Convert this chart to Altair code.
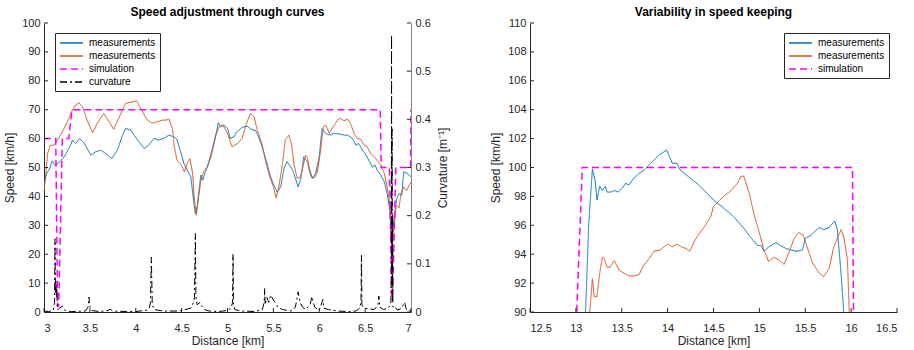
import altair as alt
import pandas as pd

FONT = "Liberation Sans"
BLUE = "#0072BD"
ORANGE = "#D95319"
MAGENTA = "#FF00FF"
BLACK = "#000000"
AX = "#262626"

# ---------------- Left panel: speed adjustment through curves ----------------
blue_km = [3.00, 3.01, 3.03, 3.06, 3.09, 3.12, 3.16, 3.22, 3.25, 3.29, 3.31, 3.345, 3.39, 3.44,
           3.47, 3.51, 3.56, 3.62, 3.67, 3.74, 3.80, 3.85, 3.89, 3.945, 4.02, 4.09, 4.14, 4.20,
           4.25, 4.31, 4.36, 4.42, 4.45, 4.49, 4.525, 4.56, 4.60, 4.63, 4.65, 4.67, 4.69, 4.71,
           4.73, 4.76, 4.82, 4.87, 4.90, 4.925, 4.96, 5.00, 5.03, 5.07, 5.10, 5.16, 5.215, 5.26,
           5.31, 5.36, 5.42, 5.46, 5.49, 5.54, 5.58, 5.62, 5.65, 5.71, 5.74, 5.77, 5.80, 5.83,
           5.87, 5.90, 5.925, 5.96, 6.00, 6.03, 6.07, 6.11, 6.16, 6.22, 6.27, 6.31, 6.36, 6.40,
           6.43, 6.47, 6.50, 6.54, 6.58, 6.61, 6.63, 6.67, 6.71, 6.74, 6.77, 6.785, 6.80, 6.83,
           6.85, 6.87, 6.90, 6.92, 6.96, 7.00]
blue_speed = [44, 45.5, 48, 49.5, 52.3, 50.8, 51.6, 53.7, 55.4, 57.7, 59.5, 58.3, 60, 58.3,
              56.6, 54.3, 55.4, 56, 54.9, 53.1, 56, 60.6, 63.5, 62.9, 59.5, 56.6, 57.7, 60.1,
              59.5, 60.1, 61.2, 60.6, 59.5, 55.4, 51.4, 49.1, 46.8, 38.7, 34.1, 36.4, 42.2, 47.4,
              45.6, 48.5, 53.7, 60.6, 65.5, 64.1, 64.7, 63.5, 60.1, 60.6, 62.3, 63.9, 64.3, 63.2,
              62.7, 58.9, 52.5, 47.9, 45, 41.5, 43.3, 50.2, 52, 49.1, 46.2, 43.3, 46.2, 53.7,
              52, 47.9, 46.2, 47.9, 53.7, 63.5, 61.8, 61.2, 61.8, 61.6, 61.2, 61.2, 60.1, 57.7,
              58.3, 56, 54.9, 52.5, 50.2, 50.8, 49.1, 47.4, 45, 41, 35.2, 24, 28, 36.4,
              39.8, 41, 40.4, 48.5, 47.9, 46.8]

orange_km = [3.00, 3.02, 3.04, 3.07, 3.11, 3.145, 3.20, 3.254, 3.31, 3.345, 3.38, 3.42, 3.47,
             3.53, 3.58, 3.65, 3.71, 3.76, 3.82, 3.89, 3.96, 4.01, 4.054, 4.126, 4.18, 4.235,
             4.29, 4.33, 4.36, 4.40, 4.42, 4.45, 4.49, 4.53, 4.56, 4.59, 4.62, 4.64, 4.66, 4.68,
             4.71, 4.74, 4.78, 4.83, 4.87, 4.91, 4.95, 5.00, 5.05, 5.11, 5.16, 5.20, 5.25, 5.29,
             5.32, 5.38, 5.42, 5.46, 5.50, 5.53, 5.56, 5.60, 5.63, 5.67, 5.70, 5.725, 5.76, 5.79,
             5.815, 5.85, 5.87, 5.89, 5.92, 5.95, 5.98, 6.015, 6.045, 6.07, 6.11, 6.14, 6.20,
             6.23, 6.27, 6.31, 6.34, 6.38, 6.41, 6.45, 6.49, 6.52, 6.56, 6.60, 6.63, 6.67, 6.71,
             6.74, 6.77, 6.79, 6.81, 6.84, 6.87, 6.89, 6.92, 6.95, 7.00]
orange_speed = [42, 48, 55, 57.7, 57.7, 59.5, 62.3, 65.8, 69.9, 71.6, 72.4, 71, 66.4,
                62, 65.3, 68.7, 65.8, 63.2, 67.5, 72.2, 72.7, 73.1, 70.4, 66.4, 65.3, 65.8,
                66.4, 66.4, 66.7, 63.5, 57.2, 52.5, 51.2, 48.5, 51.4, 53.1, 47.9, 38.7, 33.5, 38.7,
                45.6, 48.5, 50.2, 56, 61.2, 64.1, 64.7, 61.8, 57.2, 58.3, 60.1, 64.7, 68.7, 67.5,
                63.5, 57.7, 51.4, 46.8, 43.3, 39.5, 43.3, 51.4, 59.5, 61.2, 57.5, 51, 46.2, 46.5,
                49.1, 54.3, 53.5, 50.2, 46.8, 46.5, 48.5, 56, 64.1, 64.7, 61.8, 63.5, 66.4,
                67, 66.2, 66.7, 65.3, 61.8, 60.1, 59.8, 57.7, 57.2, 54.9, 53.7, 52.5, 50.8, 47.9,
                43.3, 37.5, 22, 28, 37, 36, 41, 43.3, 42, 45]

sim_km = [3.00, 3.128, 3.148, 3.16, 3.20, 3.27, 3.305, 6.665, 6.675, 6.765, 6.79, 6.80,
          6.835, 6.995, 7.00]
sim_speed = [60, 60, 2, 2, 60, 60, 70, 70, 50, 50, 5, 5, 50, 50, 70]

curv_km = [3.00, 3.05, 3.10, 3.115, 3.12, 3.125, 3.13, 3.135, 3.14, 3.145, 3.15, 3.17, 3.20,
           3.22, 3.25, 3.30, 3.45, 3.48, 3.49, 3.50, 3.52, 3.60, 3.70, 3.72, 3.75, 3.90, 4.00,
           4.13, 4.15, 4.16, 4.17, 4.18, 4.20, 4.30, 4.45, 4.50, 4.60, 4.63, 4.64, 4.65, 4.655,
           4.66, 4.67, 4.70, 4.72, 4.75, 4.80, 4.90, 5.00, 5.04, 5.055, 5.06, 5.065, 5.08, 5.15,
           5.30, 5.38, 5.40, 5.405, 5.41, 5.43, 5.45, 5.47, 5.50, 5.52, 5.55, 5.60, 5.70, 5.74,
           5.77, 5.79, 5.82, 5.85, 5.90, 5.92, 5.95, 6.00, 6.04, 6.05, 6.10, 6.20, 6.30, 6.40,
           6.44, 6.455, 6.46, 6.465, 6.48, 6.50, 6.60, 6.64, 6.65, 6.66, 6.70, 6.75, 6.78,
           6.785, 6.788, 6.791, 6.794, 6.797, 6.80, 6.803, 6.82, 6.85, 6.90, 6.93, 6.95, 7.00]
curv_val = [0.002, 0.001, 0.003, 0.02, 0.152, 0.04, 0.065, 0.03, 0.05, 0.01, 0.005, 0.008, 0.012,
            0.005, 0.002, 0.001, 0.002, 0.01, 0.031, 0.012, 0.003, 0.001, 0.003, 0.006, 0.002, 0.001, 0.001,
            0.004, 0.01, 0.02, 0.114, 0.015, 0.005, 0.002, 0.002, 0.003, 0.008, 0.02, 0.03, 0.163, 0.04,
            0.025, 0.015, 0.02, 0.012, 0.005, 0.002, 0.001, 0.003, 0.008, 0.02, 0.12, 0.015, 0.005, 0.002,
            0.001, 0.005, 0.02, 0.049, 0.015, 0.03, 0.02, 0.035, 0.025, 0.02, 0.01, 0.005, 0.002, 0.01,
            0.042, 0.02, 0.01, 0.005, 0.015, 0.032, 0.01, 0.003, 0.026, 0.008, 0.005, 0.002, 0.001, 0.002,
            0.008, 0.02, 0.118, 0.015, 0.01, 0.008, 0.005, 0.015, 0.033, 0.01, 0.005, 0.008, 0.015,
            0.1, 0.575, 0.05, 0.38, 0.02, 0.2, 0.01, 0.012, 0.004, 0.008, 0.02, 0.005, 0.002]

# ---------------- Right panel: variability in speed keeping ----------------
rblue_km = [13.10, 13.14, 13.18, 13.21, 13.23, 13.26, 13.29, 13.32, 13.34, 13.38, 13.42, 13.46,
            13.51, 13.54, 13.58, 13.63, 13.69, 13.74, 13.80, 13.85, 13.91, 13.94, 13.99, 14.01,
            14.05, 14.10, 14.14, 14.20, 14.25, 14.32, 14.40, 14.45, 14.50, 14.61, 14.72, 14.83,
            14.90, 14.98, 15.02, 15.05, 15.10, 15.18, 15.23, 15.29, 15.34, 15.41, 15.47, 15.50,
            15.56, 15.65, 15.70, 15.76, 15.82, 15.85, 15.89, 15.93]
rblue_speed = [89.0, 96.1, 99.9, 99.1, 97.75, 98.7, 98.4, 98.7, 98.3, 98.3, 98.4, 98.3,
               98.6, 98.9, 98.8, 99.25, 99.6, 99.8, 100.2, 100.5, 100.9, 101.0, 101.2, 100.9,
               100.3, 100.3, 99.8, 99.5, 99.25, 98.9, 98.4, 98.1, 97.75, 97.2, 96.6, 95.8,
               95.2, 94.6, 94.6, 94.2, 94.5, 94.8, 94.6, 94.4, 94.3, 94.2, 94.3, 95.1,
               95.3, 95.85, 95.7, 95.85, 96.3, 95.7, 92.7, 89.0]

rorange_km = [13.145, 13.18, 13.20, 13.23, 13.26, 13.29, 13.31, 13.34, 13.37, 13.42, 13.47,
              13.52, 13.58, 13.64, 13.69, 13.74, 13.80, 13.85, 13.92, 14.00, 14.05, 14.10, 14.15,
              14.20, 14.24, 14.30, 14.36, 14.41, 14.47, 14.50, 14.61, 14.69, 14.76, 14.80, 14.83,
              14.89, 14.94, 14.99, 15.05, 15.10, 15.16, 15.21, 15.27, 15.32, 15.38, 15.43, 15.48,
              15.52, 15.58, 15.65, 15.70, 15.76, 15.81, 15.87, 15.89, 15.92, 15.96, 15.985]
rorange_speed = [89.5, 92.3, 91.05, 91.05, 92.7, 93.8, 93.7, 93.1, 93.1, 93.55, 92.9,
                 92.7, 92.5, 92.5, 92.6, 93.25, 93.7, 94.2, 94.3, 94.7, 94.5, 94.7, 94.5,
                 94.4, 94.2, 95.0, 95.55, 96.0, 96.6, 97.3, 98.0, 98.4, 98.9, 99.4, 99.4,
                 98.2, 96.8, 95.7, 94.3, 93.5, 93.8, 93.6, 93.3, 94.1, 95.1, 95.5, 95.3,
                 94.5, 93.4, 92.7, 92.45, 93.0, 94.5, 95.4, 95.7, 95.2, 93.6, 89.0]

rsim_km = [13.00, 13.07, 16.015, 16.028]
rsim_speed = [88.5, 100, 100, 88]

# tick values
left_x_ticks = [3, 3.5, 4, 4.5, 5, 5.5, 6, 6.5, 7]
left_y_ticks = [0, 10, 20, 30, 40, 50, 60, 70, 80, 90, 100]
curv_ticks = [0, 0.1, 0.2, 0.3, 0.4, 0.5, 0.6]
right_x_ticks = [12.5, 13, 13.5, 14, 14.5, 15, 15.5, 16, 16.5]
right_y_ticks = [90, 92, 94, 96, 98, 100, 102, 104, 106, 108, 110]

W, H = 367, 289
TICK = 4

series_domain = ["m1", "m2", "sim", "curv"]
color_range = [BLUE, ORANGE, MAGENTA, BLACK]
dash_range = [[1, 0], [1, 0], [7, 4], [7, 3, 2, 3]]
label_expr = ("datum.value == 'sim' ? 'simulation' : datum.value == 'curv' ? 'curvature' "
              ": 'measurements'")


def make_legend(x, y):
    return alt.Legend(title=None, orient="none", legendX=x, legendY=y, labelExpr=label_expr,
                      symbolType="M-1,0H3.6", symbolSize=100, symbolStrokeWidth=1.3,
                      labelFont=FONT, labelFontSize=10, labelColor=BLACK,
                      strokeColor=AX, fillColor="white", padding=4, rowPadding=2,
                      labelOffset=18, labelOverlap=False)


def lines_df(pairs):
    frames = []
    for name, xs, ys in pairs:
        frames.append(pd.DataFrame({"km": xs, "v": ys, "s": name}))
    return pd.concat(frames, ignore_index=True)


def ax(**kw):
    base = dict(labelOverlap=False, titleFontWeight="normal", titleFont=FONT, titleFontSize=12,
                titleColor=AX, labelFont=FONT, labelFontSize=11, labelColor=AX,
                domainColor=AX, ticks=False, grid=False)
    base.update(kw)
    return alt.Axis(**base)


def enc_series(domain, legend):
    return dict(
        color=alt.Color("s:N", scale=alt.Scale(domain=domain, range=color_range[:len(domain)]),
                        legend=legend),
        strokeDash=alt.StrokeDash("s:N", scale=alt.Scale(domain=domain,
                                                         range=dash_range[:len(domain)]),
                                  legend=legend),
    )


# ---------- left chart ----------
l_scale_x = alt.Scale(domain=[3, 7], nice=False, zero=False)
l_scale_y = alt.Scale(domain=[0, 100], nice=False)
c_scale_y = alt.Scale(domain=[0, 0.6], nice=False)
leg_l = make_legend(11, 10)

X_L = dict(scale=l_scale_x, axis=ax(values=left_x_ticks, format=".1~f", title="Distance [km]",
                                    labelPadding=10, titlePadding=2))
Y_L = dict(scale=l_scale_y, axis=ax(values=left_y_ticks, format="d", title="Speed [km/h]",
                                    labelPadding=4, titlePadding=5))
Y_C = dict(scale=c_scale_y, axis=ax(values=curv_ticks, format=".1~f",
                                    title="Curvature [m\u207b\u00b9]", orient="right",
                                    domainColor="#808080", titleAngle=270, titleBaseline="top",
                                    labelPadding=4, titlePadding=7))

meas_l = alt.Chart(lines_df([("m1", blue_km, blue_speed), ("m2", orange_km, orange_speed)])).mark_line(
    strokeWidth=1, clip=True).encode(
    x=alt.X("km:Q", **X_L), y=alt.Y("v:Q", **Y_L),
    **enc_series(series_domain, leg_l),
)
sim_l = alt.Chart(lines_df([("sim", sim_km, sim_speed)])).mark_line(
    strokeWidth=1.5, clip=True).encode(
    x=alt.X("km:Q", **X_L), y=alt.Y("v:Q", **Y_L),
    **enc_series(series_domain, leg_l),
)
yt_l = alt.Chart(pd.DataFrame({"v": left_y_ticks})).mark_rule(color=AX, strokeWidth=1).encode(
    y=alt.Y("v:Q", **Y_L), x=alt.value(0), x2=alt.value(TICK))
xt_l = alt.Chart(pd.DataFrame({"km": left_x_ticks})).mark_rule(color=AX, strokeWidth=1).encode(
    x=alt.X("km:Q", **X_L), y=alt.value(H), y2=alt.value(H - TICK))

speed_layer = alt.layer(meas_l, sim_l, yt_l, xt_l)

curv_line = alt.Chart(pd.DataFrame({"km": curv_km, "c": curv_val, "s": "curv"})).mark_line(
    strokeWidth=1, clip=True).encode(
    x=alt.X("km:Q", **X_L), y=alt.Y("c:Q", **Y_C),
    **enc_series(series_domain, leg_l),
)
yt_c = alt.Chart(pd.DataFrame({"c": curv_ticks})).mark_rule(color=AX, strokeWidth=1).encode(
    y=alt.Y("c:Q", **Y_C), x=alt.value(W - TICK), x2=alt.value(W))
curv_layer = alt.layer(curv_line, yt_c)

left = alt.layer(speed_layer, curv_layer).resolve_scale(y="independent").properties(
    width=W, height=H,
    title=alt.TitleParams("Speed adjustment through curves", frame="group"))

# ---------- right chart ----------
r_scale_x = alt.Scale(domain=[12.5, 16.5], nice=False, zero=False)
r_scale_y = alt.Scale(domain=[90, 110], nice=False, zero=False)
r_domain = ["m1", "m2", "sim"]
leg_r = make_legend(254, 10)

X_R = dict(scale=r_scale_x, axis=ax(values=right_x_ticks, format=".1~f", title="Distance [km]",
                                    labelPadding=10, titlePadding=2))
Y_R = dict(scale=r_scale_y, axis=ax(values=right_y_ticks, format="d", title="Speed [km/h]",
                                    labelPadding=4, titlePadding=5))

meas_r = alt.Chart(lines_df([("m1", rblue_km, rblue_speed), ("m2", rorange_km, rorange_speed)])).mark_line(
    strokeWidth=1, clip=True).encode(
    x=alt.X("km:Q", **X_R), y=alt.Y("v:Q", **Y_R),
    **enc_series(r_domain, leg_r),
)
sim_r = alt.Chart(lines_df([("sim", rsim_km, rsim_speed)])).mark_line(
    strokeWidth=1.5, clip=True).encode(
    x=alt.X("km:Q", **X_R), y=alt.Y("v:Q", **Y_R),
    **enc_series(r_domain, leg_r),
)
yt_r = alt.Chart(pd.DataFrame({"v": right_y_ticks})).mark_rule(color=AX, strokeWidth=1).encode(
    y=alt.Y("v:Q", **Y_R), x=alt.value(0), x2=alt.value(TICK))
xt_r = alt.Chart(pd.DataFrame({"km": right_x_ticks})).mark_rule(color=AX, strokeWidth=1).encode(
    x=alt.X("km:Q", **X_R), y=alt.value(H), y2=alt.value(H - TICK))

right = alt.layer(meas_r, sim_r, yt_r, xt_r).properties(
    width=W, height=H,
    title=alt.TitleParams("Variability in speed keeping", frame="group"))

chart = alt.hconcat(left, right, spacing=119, bounds="flush").resolve_scale(
    color="independent", strokeDash="independent").resolve_legend(
    color="independent", strokeDash="independent").properties(
    padding={"left": 3, "top": 6, "right": 5, "bottom": 5}, background="white"
).configure_view(stroke=None).configure_axis(
    domainColor=AX, domainWidth=1, ticks=False, grid=False,
    labelFont=FONT, labelFontSize=11, labelColor=AX,
    titleFont=FONT, titleFontSize=12, titleFontWeight="normal", titleColor=AX,
).configure_title(
    font=FONT, fontSize=12, fontWeight="bold", color=BLACK, offset=-2, anchor="middle"
)

chart.save("out.html", embed_options={"renderer": "svg", "actions": False})
